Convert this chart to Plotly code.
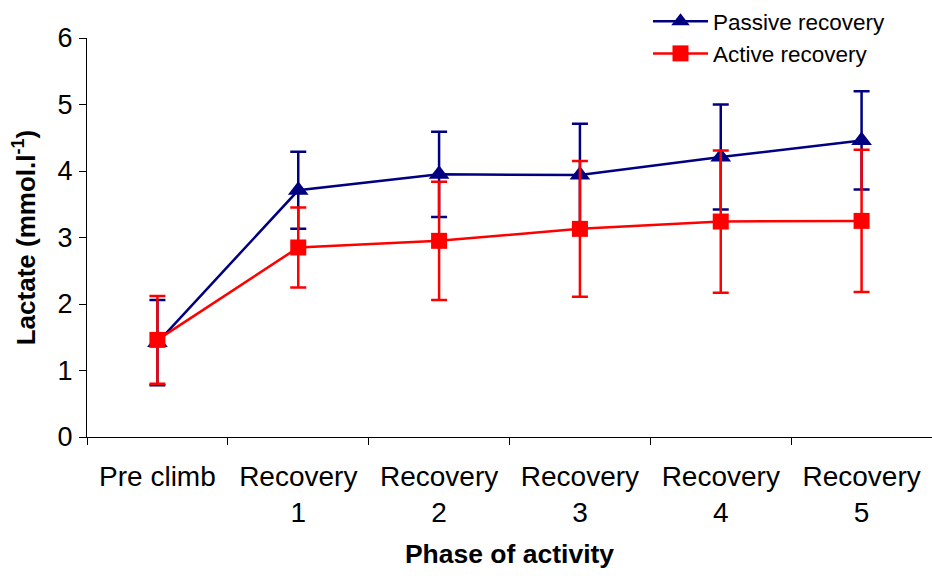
import plotly.graph_objects as go

categories = ["Pre climb", "Recovery<br>1", "Recovery<br>2", "Recovery<br>3", "Recovery<br>4", "Recovery<br>5"]
passive_mean = [1.42, 3.71, 3.95, 3.94, 4.21, 4.46]
passive_err = [0.64, 0.58, 0.64, 0.77, 0.79, 0.74]
active_mean = [1.46, 2.85, 2.95, 3.13, 3.24, 3.25]
active_err = [0.66, 0.60, 0.89, 1.02, 1.07, 1.07]

NAVY = "#000080"
RED = "#FF0000"
FONT = "Liberation Sans, Arial, sans-serif"

W, H = 932, 576

fig = go.Figure()
fig.add_trace(go.Scatter(
    x=categories, y=passive_mean, name="Passive recovery", mode="lines+markers",
    line=dict(color=NAVY, width=2.5),
    marker=dict(symbol="triangle-up", size=18, color=NAVY),
    error_y=dict(type="data", array=passive_err, visible=True, color=NAVY, thickness=2.5, width=8),
))
fig.add_trace(go.Scatter(
    x=categories, y=active_mean, name="Active recovery", mode="lines+markers",
    line=dict(color=RED, width=2.5),
    marker=dict(symbol="square", size=16, color=RED),
    error_y=dict(type="data", array=active_err, visible=True, color=RED, thickness=2.5, width=8),
))

fig.update_layout(
    width=W, height=H,
    margin=dict(l=0, r=0, t=0, b=0),
    paper_bgcolor="white", plot_bgcolor="white",
    font=dict(family=FONT, size=26, color="black"),
    showlegend=True,
    legend=dict(x=648 / W, y=1.0, xanchor="left", yanchor="top",
                font=dict(size=22.5), bgcolor="rgba(0,0,0,0)", itemwidth=55,
                tracegroupgap=0),
    xaxis=dict(
        domain=[87 / W, 932 / W],
        type="category", range=[-0.5, 5.5], showline=True, linecolor="black", linewidth=1,
        ticks="outside", tickson="boundaries", ticklen=7, tickcolor="black",
        showgrid=False, zeroline=False, tickfont=dict(size=28), automargin=False,
        ticklabelstandoff=14,
        title=dict(text="<b>Phase of activity</b>", font=dict(size=26.5), standoff=17),
    ),
    yaxis=dict(
        domain=[(H - 437) / H, (H - 38) / H],
        range=[0, 6], dtick=1, showline=True, linecolor="black", linewidth=1,
        ticks="outside", ticklen=7, tickcolor="black", showgrid=False, zeroline=False,
        tickfont=dict(size=27), automargin=False, ticklabelstandoff=1,
        title=dict(text="<b>Lactate (mmol.l<sup>-1</sup>)</b>", font=dict(size=26), standoff=14),
    ),
)

fig.write_html("out.html", config={"displayModeBar": False},
               post_script="document.body.style.margin='0';")
